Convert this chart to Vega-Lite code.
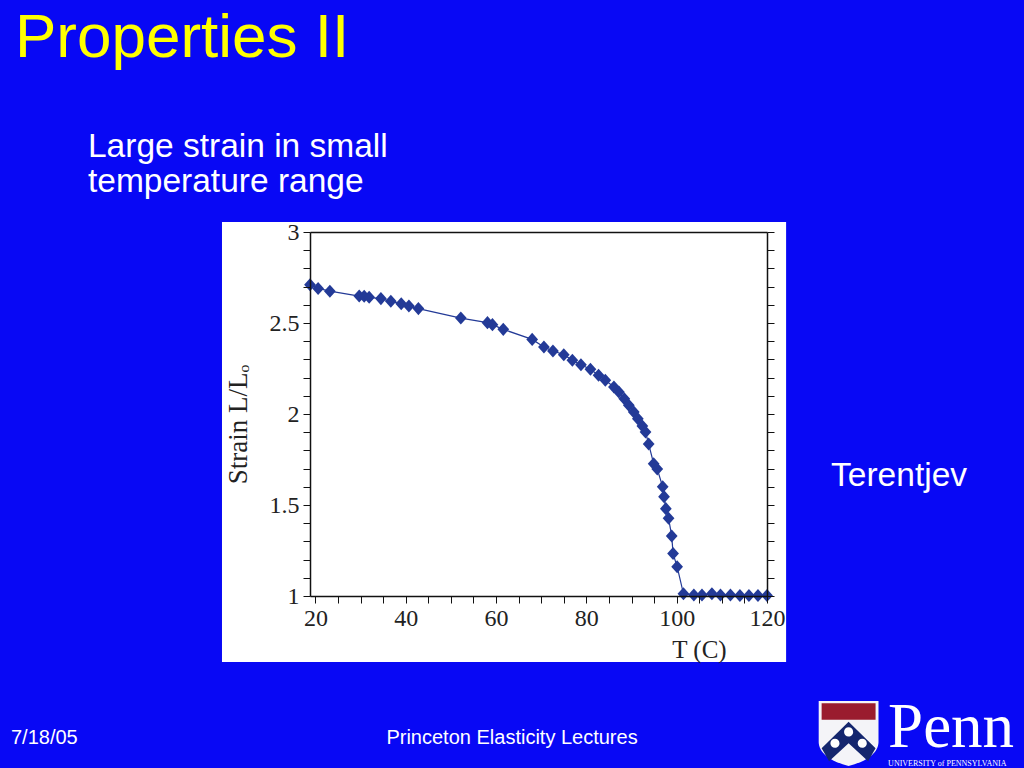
{
  "$schema": "https://vega.github.io/schema/vega-lite/v6.json",
  "width": 457,
  "height": 364,
  "autosize": "none",
  "padding": {"left": 310, "top": 232, "right": 257, "bottom": 172},
  "background": "#0808F5",
  "config": {"view": {"stroke": null}},
  "datasets": {
    "strain": [
      {"T": 18.8, "strain": 2.71},
      {"T": 20.6, "strain": 2.69},
      {"T": 23.2, "strain": 2.675},
      {"T": 29.7, "strain": 2.648},
      {"T": 30.8, "strain": 2.647},
      {"T": 31.9, "strain": 2.641},
      {"T": 34.5, "strain": 2.634},
      {"T": 36.7, "strain": 2.619},
      {"T": 39.0, "strain": 2.606},
      {"T": 40.7, "strain": 2.593},
      {"T": 42.8, "strain": 2.579},
      {"T": 52.2, "strain": 2.527},
      {"T": 58.1, "strain": 2.502},
      {"T": 59.2, "strain": 2.491},
      {"T": 61.6, "strain": 2.465},
      {"T": 68.0, "strain": 2.41},
      {"T": 70.6, "strain": 2.368},
      {"T": 72.6, "strain": 2.346},
      {"T": 75.0, "strain": 2.326},
      {"T": 76.9, "strain": 2.295},
      {"T": 78.8, "strain": 2.271},
      {"T": 80.9, "strain": 2.246},
      {"T": 82.7, "strain": 2.213},
      {"T": 84.2, "strain": 2.185},
      {"T": 86.1, "strain": 2.148},
      {"T": 87.2, "strain": 2.121},
      {"T": 88.4, "strain": 2.084},
      {"T": 89.4, "strain": 2.048},
      {"T": 90.5, "strain": 2.011},
      {"T": 91.4, "strain": 1.974},
      {"T": 92.4, "strain": 1.934},
      {"T": 93.1, "strain": 1.901},
      {"T": 93.8, "strain": 1.835},
      {"T": 94.9, "strain": 1.727},
      {"T": 95.7, "strain": 1.698},
      {"T": 96.9, "strain": 1.6},
      {"T": 97.2, "strain": 1.546},
      {"T": 97.6, "strain": 1.48},
      {"T": 98.2, "strain": 1.427},
      {"T": 98.9, "strain": 1.33},
      {"T": 99.2, "strain": 1.233},
      {"T": 100.1, "strain": 1.161},
      {"T": 101.5, "strain": 1.012},
      {"T": 103.8, "strain": 1.005},
      {"T": 105.6, "strain": 1.005},
      {"T": 107.8, "strain": 1.012},
      {"T": 109.7, "strain": 1.005},
      {"T": 111.9, "strain": 1.006},
      {"T": 114.0, "strain": 1.003},
      {"T": 116.0, "strain": 1.003},
      {"T": 118.0, "strain": 1.003},
      {"T": 120.0, "strain": 1.003}
    ]
  },
  "layer": [
    {
      "data": {"values": [{}]},
      "mark": {"type": "rect", "color": "white"},
      "encoding": {
        "x": {"datum": -0.69, "type": "quantitative", "scale": {"domain": [18.8, 120], "nice": false, "zero": false}, "axis": null},
        "x2": {"datum": 124.23},
        "y": {"datum": 3.055, "type": "quantitative", "scale": {"domain": [1, 3], "nice": false, "zero": false}, "axis": null},
        "y2": {"datum": 0.637}
      }
    },
    {
      "data": {"name": "strain"},
      "mark": {"type": "line", "color": "#233A97", "strokeWidth": 1.2},
      "encoding": {
        "x": {
          "field": "T",
          "type": "quantitative",
          "scale": {"domain": [18.8, 120], "nice": false, "zero": false},
          "title": "T (C)",
          "axis": {
            "orient": "bottom",
            "zindex": 1,
            "grid": false,
            "values": [20, 25, 30, 35, 40, 45, 50, 55, 60, 65, 70, 75, 80, 85, 90, 95, 100, 105, 110, 115, 120],
            "format": "d",
            "labelExpr": "datum.value % 20 == 0 ? datum.label : ''",
            "labelFlush": false,
            "labelOverlap": false,
            "tickSize": 7,
            "tickColor": "#111111",
            "domainColor": "#111111",
            "domainWidth": 1.5,
            "labelFont": "Liberation Serif",
            "labelFontSize": 24,
            "labelColor": "#222222",
            "labelPadding": 3,
            "titleFont": "Liberation Serif",
            "titleFontSize": 25,
            "titleFontWeight": "normal",
            "titleColor": "#222222",
            "titleX": 389,
            "titleY": 61,
            "titleAlign": "center",
            "titleBaseline": "alphabetic"
          }
        },
        "y": {
          "field": "strain",
          "type": "quantitative",
          "scale": {"domain": [1, 3], "nice": false, "zero": false},
          "title": "Strain L/Lₒ",
          "axis": {
            "orient": "left",
            "zindex": 1,
            "grid": false,
            "values": [1, 1.1, 1.2, 1.3, 1.4, 1.5, 1.6, 1.7, 1.8, 1.9, 2, 2.1, 2.2, 2.3, 2.4, 2.5, 2.6, 2.7, 2.8, 2.9, 3],
            "format": "~g",
            "labelExpr": "round(datum.value * 10) % 5 == 0 ? datum.label : ''",
            "labelOverlap": false,
            "tickSize": 7,
            "tickColor": "#111111",
            "domainColor": "#111111",
            "domainWidth": 1.5,
            "labelFont": "Liberation Serif",
            "labelFontSize": 24,
            "labelColor": "#222222",
            "labelPadding": 4,
            "titleFont": "Liberation Serif",
            "titleFontSize": 27,
            "titleFontWeight": "normal",
            "titleColor": "#222222",
            "titleAngle": -90,
            "titleX": -64,
            "titleY": 192,
            "titleAlign": "center",
            "titleBaseline": "alphabetic"
          }
        }
      }
    },
    {
      "data": {"name": "strain"},
      "mark": {"type": "point", "shape": "M-0.9,0L0,-1L0.9,0L0,1Z", "filled": true, "size": 170, "color": "#233A97", "opacity": 1},
      "encoding": {
        "x": {
          "field": "T",
          "type": "quantitative",
          "scale": {"domain": [18.8, 120], "nice": false, "zero": false},
          "axis": {"orient": "top", "zindex": 1, "grid": false, "ticks": false, "labels": false, "title": null, "domainColor": "#111111", "domainWidth": 1.5}
        },
        "y": {
          "field": "strain",
          "type": "quantitative",
          "scale": {"domain": [1, 3], "nice": false, "zero": false},
          "axis": {
            "orient": "right",
            "zindex": 1,
            "grid": false,
            "labels": false,
            "title": null,
            "values": [1, 1.1, 1.2, 1.3, 1.4, 1.5, 1.6, 1.7, 1.8, 1.9, 2, 2.1, 2.2, 2.3, 2.4, 2.5, 2.6, 2.7, 2.8, 2.9, 3],
            "tickSize": 7,
            "tickColor": "#111111",
            "domainColor": "#111111",
            "domainWidth": 1.5
          }
        }
      }
    },
    {
      "data": {"values": [{}]},
      "mark": {"type": "text", "text": "Properties II", "align": "left", "baseline": "alphabetic", "font": "Liberation Sans", "fontSize": 62, "color": "#FFFF00"},
      "encoding": {
        "x": {"datum": -46.54, "type": "quantitative", "scale": {"domain": [18.8, 120], "nice": false, "zero": false}, "axis": null},
        "y": {"datum": 3.9615, "type": "quantitative", "scale": {"domain": [1, 3], "nice": false, "zero": false}, "axis": null}
      }
    },
    {
      "data": {"values": [{}]},
      "mark": {"type": "text", "text": ["Large strain in small", "temperature range"], "lineHeight": 35, "align": "left", "baseline": "alphabetic", "font": "Liberation Sans", "fontSize": 33.5, "color": "white"},
      "encoding": {
        "x": {"datum": -30.37, "type": "quantitative", "scale": {"domain": [18.8, 120], "nice": false, "zero": false}, "axis": null},
        "y": {"datum": 3.412, "type": "quantitative", "scale": {"domain": [1, 3], "nice": false, "zero": false}, "axis": null}
      }
    },
    {
      "data": {"values": [{}]},
      "mark": {"type": "text", "text": "Terentjev", "align": "left", "baseline": "alphabetic", "font": "Liberation Sans", "fontSize": 33.5, "color": "white"},
      "encoding": {
        "x": {"datum": 134.19, "type": "quantitative", "scale": {"domain": [18.8, 120], "nice": false, "zero": false}, "axis": null},
        "y": {"datum": 1.604, "type": "quantitative", "scale": {"domain": [1, 3], "nice": false, "zero": false}, "axis": null}
      }
    },
    {
      "data": {"values": [{}]},
      "mark": {"type": "text", "text": "7/18/05", "align": "left", "baseline": "alphabetic", "font": "Liberation Sans", "fontSize": 20, "color": "white"},
      "encoding": {
        "x": {"datum": -47.42, "type": "quantitative", "scale": {"domain": [18.8, 120], "nice": false, "zero": false}, "axis": null},
        "y": {"datum": 0.187, "type": "quantitative", "scale": {"domain": [1, 3], "nice": false, "zero": false}, "axis": null}
      }
    },
    {
      "data": {"values": [{}]},
      "mark": {"type": "text", "text": "Princeton Elasticity Lectures", "align": "center", "baseline": "alphabetic", "font": "Liberation Sans", "fontSize": 20, "color": "white"},
      "encoding": {
        "x": {"datum": 63.54, "type": "quantitative", "scale": {"domain": [18.8, 120], "nice": false, "zero": false}, "axis": null},
        "y": {"datum": 0.187, "type": "quantitative", "scale": {"domain": [1, 3], "nice": false, "zero": false}, "axis": null}
      }
    },
    {
      "data": {"values": [{}]},
      "mark": {"type": "text", "text": "Penn", "align": "left", "baseline": "alphabetic", "font": "Liberation Serif", "fontSize": 63, "color": "white"},
      "encoding": {
        "x": {"datum": 146.82, "type": "quantitative", "scale": {"domain": [18.8, 120], "nice": false, "zero": false}, "axis": null},
        "y": {"datum": 0.17, "type": "quantitative", "scale": {"domain": [1, 3], "nice": false, "zero": false}, "axis": null}
      }
    },
    {
      "data": {"values": [{}]},
      "mark": {"type": "text", "text": "UNIVERSITY of PENNSYLVANIA", "align": "left", "baseline": "alphabetic", "font": "Liberation Serif", "fontSize": 8, "color": "white"},
      "encoding": {
        "x": {"datum": 146.82, "type": "quantitative", "scale": {"domain": [18.8, 120], "nice": false, "zero": false}, "axis": null},
        "y": {"datum": 0.066, "type": "quantitative", "scale": {"domain": [1, 3], "nice": false, "zero": false}, "axis": null}
      }
    },
    {
      "data": {"values": [{}]},
      "mark": {"type": "point", "shape": "M-0.92,-1L0.92,-1L0.92,0.25C0.92,0.65 0.45,0.88 0,1C-0.45,0.88 -0.92,0.65 -0.92,0.25Z", "filled": true, "size": 4225, "color": "#F4F4F8", "opacity": 1},
      "encoding": {
        "x": {"datum": 138.07, "type": "quantitative", "scale": {"domain": [18.8, 120], "nice": false, "zero": false}, "axis": null},
        "y": {"datum": 0.2445, "type": "quantitative", "scale": {"domain": [1, 3], "nice": false, "zero": false}, "axis": null}
      }
    },
    {
      "data": {"values": [{}]},
      "mark": {"type": "point", "shape": "M-0.83,-0.93L0.83,-0.93L0.83,-0.42L-0.83,-0.42Z", "filled": true, "size": 4225, "color": "#9A1C2E", "opacity": 1},
      "encoding": {
        "x": {"datum": 138.07, "type": "quantitative", "scale": {"domain": [18.8, 120], "nice": false, "zero": false}, "axis": null},
        "y": {"datum": 0.2445, "type": "quantitative", "scale": {"domain": [1, 3], "nice": false, "zero": false}, "axis": null}
      }
    },
    {
      "data": {"values": [{}]},
      "mark": {"type": "point", "shape": "M-0.83,0.45L0,-0.36L0.83,0.45L0.6,0.85L0,0.3L-0.6,0.85Z", "filled": true, "size": 4225, "color": "#14266E", "opacity": 1},
      "encoding": {
        "x": {"datum": 138.07, "type": "quantitative", "scale": {"domain": [18.8, 120], "nice": false, "zero": false}, "axis": null},
        "y": {"datum": 0.2445, "type": "quantitative", "scale": {"domain": [1, 3], "nice": false, "zero": false}, "axis": null}
      }
    },
    {
      "data": {"values": [{}]},
      "mark": {"type": "point", "shape": "M-0.14,-0.05a0.14,0.14 0 1,0 0.28,0a0.14,0.14 0 1,0 -0.28,0M-0.56,0.3a0.14,0.14 0 1,0 0.28,0a0.14,0.14 0 1,0 -0.28,0M0.28,0.3a0.14,0.14 0 1,0 0.28,0a0.14,0.14 0 1,0 -0.28,0", "filled": true, "size": 4225, "color": "white", "opacity": 1},
      "encoding": {
        "x": {"datum": 138.07, "type": "quantitative", "scale": {"domain": [18.8, 120], "nice": false, "zero": false}, "axis": null},
        "y": {"datum": 0.2445, "type": "quantitative", "scale": {"domain": [1, 3], "nice": false, "zero": false}, "axis": null}
      }
    }
  ],
  "resolve": {"axis": {"x": "independent", "y": "independent"}}
}
